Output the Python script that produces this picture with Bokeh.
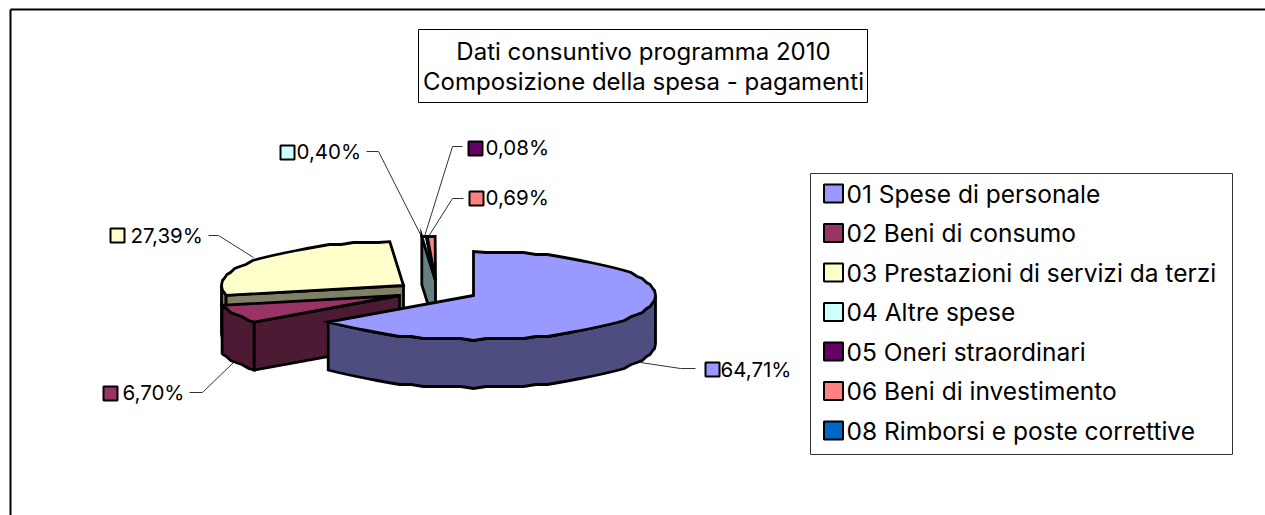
import numpy as np
from bokeh.embed import file_html
from bokeh.resources import INLINE
from bokeh.plotting import figure
from bokeh.models import Range1d
from bokeh.core.properties import value

title_lines = ["Dati consuntivo programma 2010", "Composizione della spesa - pagamenti"]
categories = ["01  Spese di personale", "02  Beni di consumo", "03  Prestazioni di servizi da terzi",
              "04  Altre spese", "05  Oneri straordinari", "06  Beni di investimento",
              "08  Rimborsi e poste correttive"]
shares = [64.71, 6.70, 27.39, 0.40, 0.08, 0.69, 0.03]
share_labels = ["64,71%", "6,70%", "27,39%", "0,40%", "0,08%", "0,69%", ""]
top_colors = ["#9999FF", "#993366", "#FFFFCC", "#CCFFFF", "#660066", "#FF8080", "#0066CC"]
side_colors = ["#4D4D80", "#4D1A33", "#808066", "#668080", "#330033", "#804040", "#003366"]

FONT = value("Inter")
A, B, D = 182.0, 44.0, 48.0
apex = {0: (473, 295), 1: (399, 295), 2: (403, 285), 3: (435, 280), 4: (435, 280), 5: (435, 280), 6: (435, 280)}

W, H = 1265, 515
p = figure(width=W, height=H, output_backend="svg", toolbar_location=None,
           x_range=Range1d(0, W), y_range=Range1d(H, 0), min_border=0,
           outline_line_color=None, background_fill_color="white", border_fill_color="white")
p.axis.visible = False
p.grid.visible = False

edges = np.concatenate([[0.0], np.cumsum(shares)]) / sum(shares) * 360.0


def rim(i, t0, t1):
    inner = np.arange(np.ceil(t0 / 4.0) * 4.0, t1, 4.0)
    t = np.radians(np.r_[t0, inner[inner > t0], t1])
    cx, cy = apex[i]
    x, y = cx + A * np.sin(t), cy - B * np.cos(t)
    y[1:-1] = np.round(y[1:-1] / 2.0) * 2.0
    return x, y


def poly(xs, ys, fill):
    p.patch(list(xs), list(ys), fill_color=fill, line_color="black", line_width=2.8, line_join="miter")


def cut_wall(i, t):
    x, y = rim(i, t, t)
    cx, cy = apex[i]
    poly([x[0], cx, cx, x[0]], [y[0], cy, cy + D, y[0] + D], side_colors[i])


def rim_wall(i, t0, t1):
    x, y = rim(i, t0, t1)
    poly(np.r_[x, x[::-1]], np.r_[y, (y + D)[::-1]], side_colors[i])


def top(i, t0, t1):
    x, y = rim(i, t0, t1)
    cx, cy = apex[i]
    poly(np.r_[cx, x], np.r_[cy, y], top_colors[i])


# leader lines sit under the pie
leaders = [
    ([640, 680, 695], [362, 368, 368]),
    ([233, 202, 189], [362, 392, 392]),
    ([253, 218, 208], [257, 235, 235]),
    ([421, 378, 366], [236, 151, 151]),
    ([424, 452, 462], [236, 146, 146]),
    ([428, 452, 463], [236, 198, 198]),
]
for lx, ly in leaders:
    p.line(lx, ly, line_color="#333333", line_width=1)

# back to front: yellow, the thin exploded slices, maroon, blue
rim_wall(2, edges[2], 270)
cut_wall(2, edges[2])
top(2, edges[2], edges[3])

cut_wall(3, edges[3])
for k in (3, 4, 5):
    top(k, edges[k], edges[k + 1])

rim_wall(1, edges[1], edges[2])
cut_wall(1, edges[1])
top(1, edges[1], edges[2])

rim_wall(0, 90, edges[1])
top(0, edges[0], edges[1])

# data labels
mark_xy = [(712, 369), (110, 393), (117, 235), (287, 152), (475, 148), (476, 198)]
text_xy = [(720, 369), (122, 392), (130, 235), (296, 151), (485, 147), (485, 197)]
for i in range(6):
    p.rect([mark_xy[i][0]], [mark_xy[i][1]], width=14, height=14, fill_color=top_colors[i],
           line_color="black", line_width=2)
    p.text([text_xy[i][0]], [text_xy[i][1]], text=[share_labels[i]], text_font=FONT, text_font_size="20.5px",
           text_color="black", text_align="left", text_baseline="middle")

# title box
p.quad(left=[418], right=[867], top=[29], bottom=[102], fill_color="white", line_color="black", line_width=1)
for j, line in enumerate(title_lines):
    p.text([643], [50.5 + 30 * j], text=[line], text_font=FONT, text_font_size="24px", text_color="black",
           text_align="center", text_baseline="middle")

# legend box
p.quad(left=[810], right=[1232], top=[173], bottom=[454], fill_color="white", line_color="#333333", line_width=1)
for i, name in enumerate(categories):
    y = 193 + 39.5 * i
    p.rect([833], [y], width=19, height=18, fill_color=top_colors[i], line_color="black", line_width=2)
    p.text([846], [y], text=[name], text_font=FONT, text_font_size="24.5px", text_color="black",
           text_align="left", text_baseline="middle")

# chart area border
p.line([10, 10], [H, 9], line_color="black", line_width=2)
p.line([10, W], [9, 9], line_color="black", line_width=2)

open("out.html", "w").write(file_html(p, INLINE))
